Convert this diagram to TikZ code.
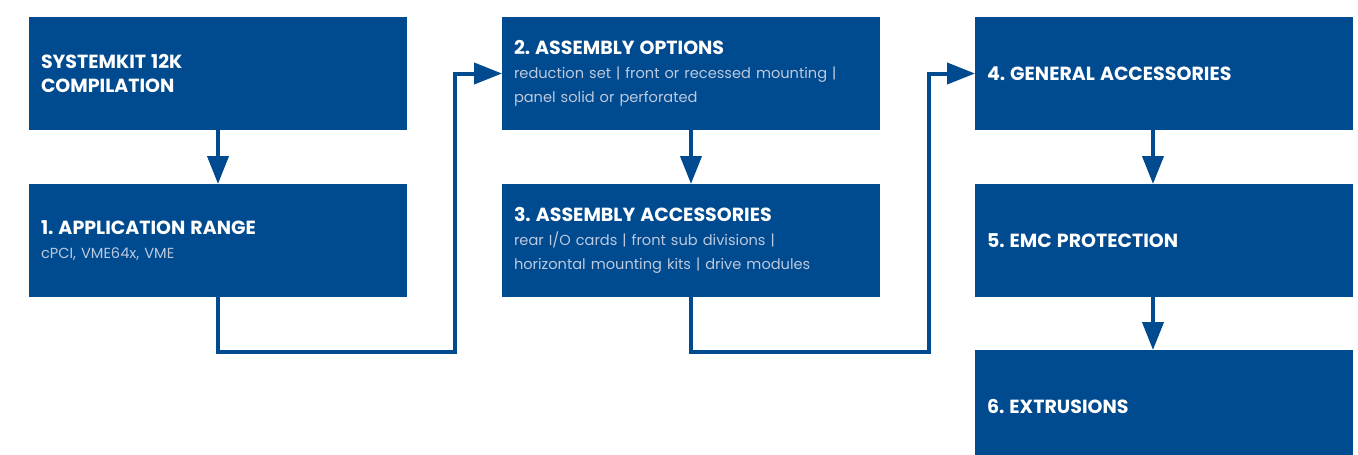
\documentclass[tikz,border=0pt]{standalone}
\usepackage{fontspec}
\setmainfont{Poppins}
\usepackage{tikz}
\usetikzlibrary{arrows.meta,positioning}
\definecolor{kitblue}{RGB}{0,74,143}
\definecolor{kitgrey}{RGB}{188,201,222}
\newcommand{\boxtitle}[1]{{\fontsize{19}{24}\selectfont\bfseries #1}}
\newcommand{\boxsub}[1]{{\color{kitgrey}\fontsize{14.6}{24}\selectfont #1}}

\begin{document}
\frenchspacing
\begin{tikzpicture}[x=1pt,y=-1pt,
    box/.style={fill=kitblue,text=white,anchor=north west,inner xsep=12pt,inner ysep=0pt,
      outer sep=0pt,text width=354pt,minimum height=113pt,align=left,
      font=\fontsize{15}{24}\selectfont},
    flow/.style={draw=kitblue,line width=4pt,-{Triangle[length=28pt,width=21pt]}}]
  \useasboundingbox (0,0) rectangle (1358,455);
  \clip (0,0) rectangle (1358,455);
  % first column
  \node[box] (kit) at (29,17)  {\boxtitle{SYSTEMKIT 12K}\\\boxtitle{COMPILATION}};
  \node[box] (app) at (29,184) {\boxtitle{1. APPLICATION RANGE}\\\boxsub{cPCI, VME64x, VME}};
  % second column
  \node[box] (opt) at (502,17)  {\boxtitle{2. ASSEMBLY OPTIONS}\\
    \boxsub{reduction set | front or recessed mounting |}\\\boxsub{panel solid or perforated}};
  \node[box] (acc) at (502,184) {\boxtitle{3. ASSEMBLY ACCESSORIES}\\
    \boxsub{rear I/O cards | front sub divisions |}\\\boxsub{horizontal mounting kits | drive modules}};
  % third column
  \node[box] (gen) at (975,17)  {\boxtitle{4. GENERAL ACCESSORIES}};
  \node[box] (emc) at (975,184) {\boxtitle{5. EMC PROTECTION}};
  \node[box] (ext) at (975,350) {\boxtitle{6. EXTRUSIONS}};
  % turning points of the long connectors
  \coordinate (turnA) at (455,352);
  \coordinate (turnB) at (929,352);
  % connectors
  \draw[flow] (kit.south) -- (app.north);
  \draw[flow] (app.south) |- (turnA) |- (opt.west);
  \draw[flow] (opt.south) -- (acc.north);
  \draw[flow] (acc.south) |- (turnB) |- (gen.west);
  \draw[flow] ([xshift=-11pt]gen.south) -- ([xshift=-11pt]emc.north);
  \draw[flow] ([xshift=-11pt]emc.south) -- ([xshift=-11pt]ext.north);
\end{tikzpicture}
\end{document}
